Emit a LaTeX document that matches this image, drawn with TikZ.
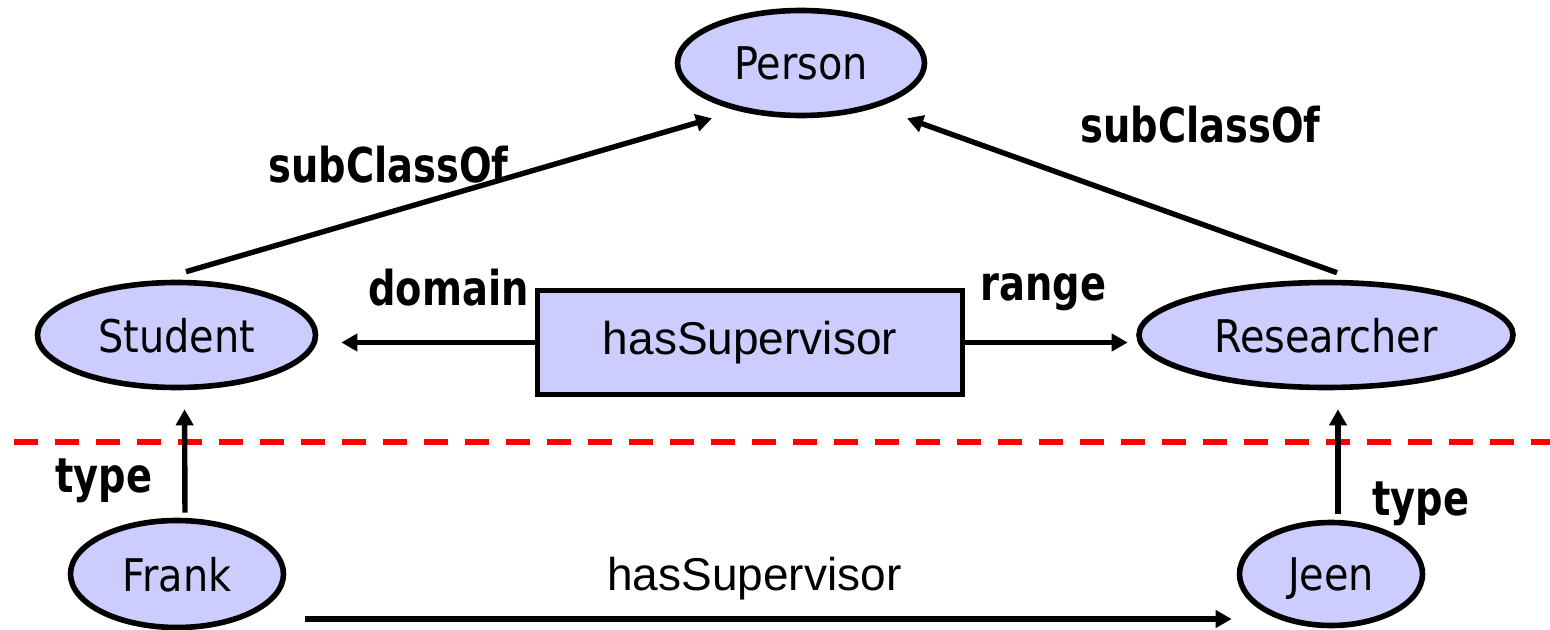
\documentclass[tikz,border=0pt]{standalone}
\usepackage{fontspec}
\setmainfont{DejaVu Sans}[FakeStretch=0.885]
\newfontfamily\lblfont{DejaVu Sans}[FakeStretch=0.8]
\newfontfamily\arialfont{Liberation Sans}
\usetikzlibrary{shapes.geometric,arrows.meta}
\definecolor{classfill}{HTML}{CCCCFF}
\definecolor{cutred}{HTML}{FF0000}
\begin{document}
\begin{tikzpicture}[x=0.5pt,y=-0.5pt,
	cls/.style={ellipse,draw,line width=2.8pt,fill=classfill,inner sep=0pt,text depth=0pt,font=\fontsize{22.5}{27}\selectfont},
	prop/.style={rectangle,draw,line width=2.8pt,fill=classfill,inner sep=0pt,minimum width=212.5pt,minimum height=52pt,font=\arialfont\fontsize{23}{28}\selectfont},
	arr/.style={line width=2.7pt,-{Triangle[length=8pt,width=8.5pt]}},
	lbl/.style={anchor=base west,inner sep=0pt,font=\lblfont\bfseries\fontsize{24}{29}\selectfont}]
	\useasboundingbox (0,0) rectangle (1550,630);
	\draw[cutred,line width=3pt,dash pattern=on 12pt off 8.5pt] (14,442)--(1550,442);
	\node[cls,minimum width=123.5pt,minimum height=52.5pt] (person) at (801,63) {Person};
	\node[cls,minimum width=139pt,minimum height=52.5pt] (student) at (176.5,335) {Student};
	\node[cls,minimum width=187pt,minimum height=52.5pt] (researcher) at (1326,335) {Researcher};
	\node[cls,minimum width=106.5pt,minimum height=53.5pt] (frank) at (177,574) {Frank};
	\node[cls,minimum width=91.5pt,minimum height=51.5pt] (jeen) at (1331,574) {Jeen};
	\node[prop] (supbox) at (750,342.5) {hasSupervisor};
	\draw[arr] ([shift={(4.75pt,4pt)}]student.north)--([xshift=-44.5pt]person.south);
	\draw[arr] ([shift={(5.5pt,3.5pt)}]researcher.north)--([xshift=53pt]person.south);
	\draw[arr,shorten >=11.5pt] (supbox.west)--(supbox.west -| student.east);
	\draw[arr,shorten >=4.25pt] (supbox.east)--(supbox.east -| researcher.west);
	\draw[arr,shorten <=2.5pt,shorten >=9.5pt] ([xshift=4pt]frank.north)--([xshift=4pt]student.south);
	\draw[arr,shorten <=3pt,shorten >=9.5pt] ([xshift=3.5pt]jeen.north)--([xshift=3.5pt]jeen.north |- researcher.south);
	\draw[arr,shorten >=2.5pt] ([shift={(9.5pt,-22.5pt)}]frank.east)--([yshift=-22.5pt]jeen.west);
	\foreach \Pos/\Name/\Text in {(268,183)/sclleft/subClassOf,(1080,143)/sclright/subClassOf,(368,306)/dom/domain,(980,300)/rng/range,(55,492)/typeleft/type,(1372,515)/typeright/type}
		\node[lbl] (\Name) at \Pos {\Text};
	\node[anchor=base west,inner sep=0pt,font=\arialfont\fontsize{23}{28}\selectfont] (supname) at (607,590) {hasSupervisor};
\end{tikzpicture}
\end{document}
